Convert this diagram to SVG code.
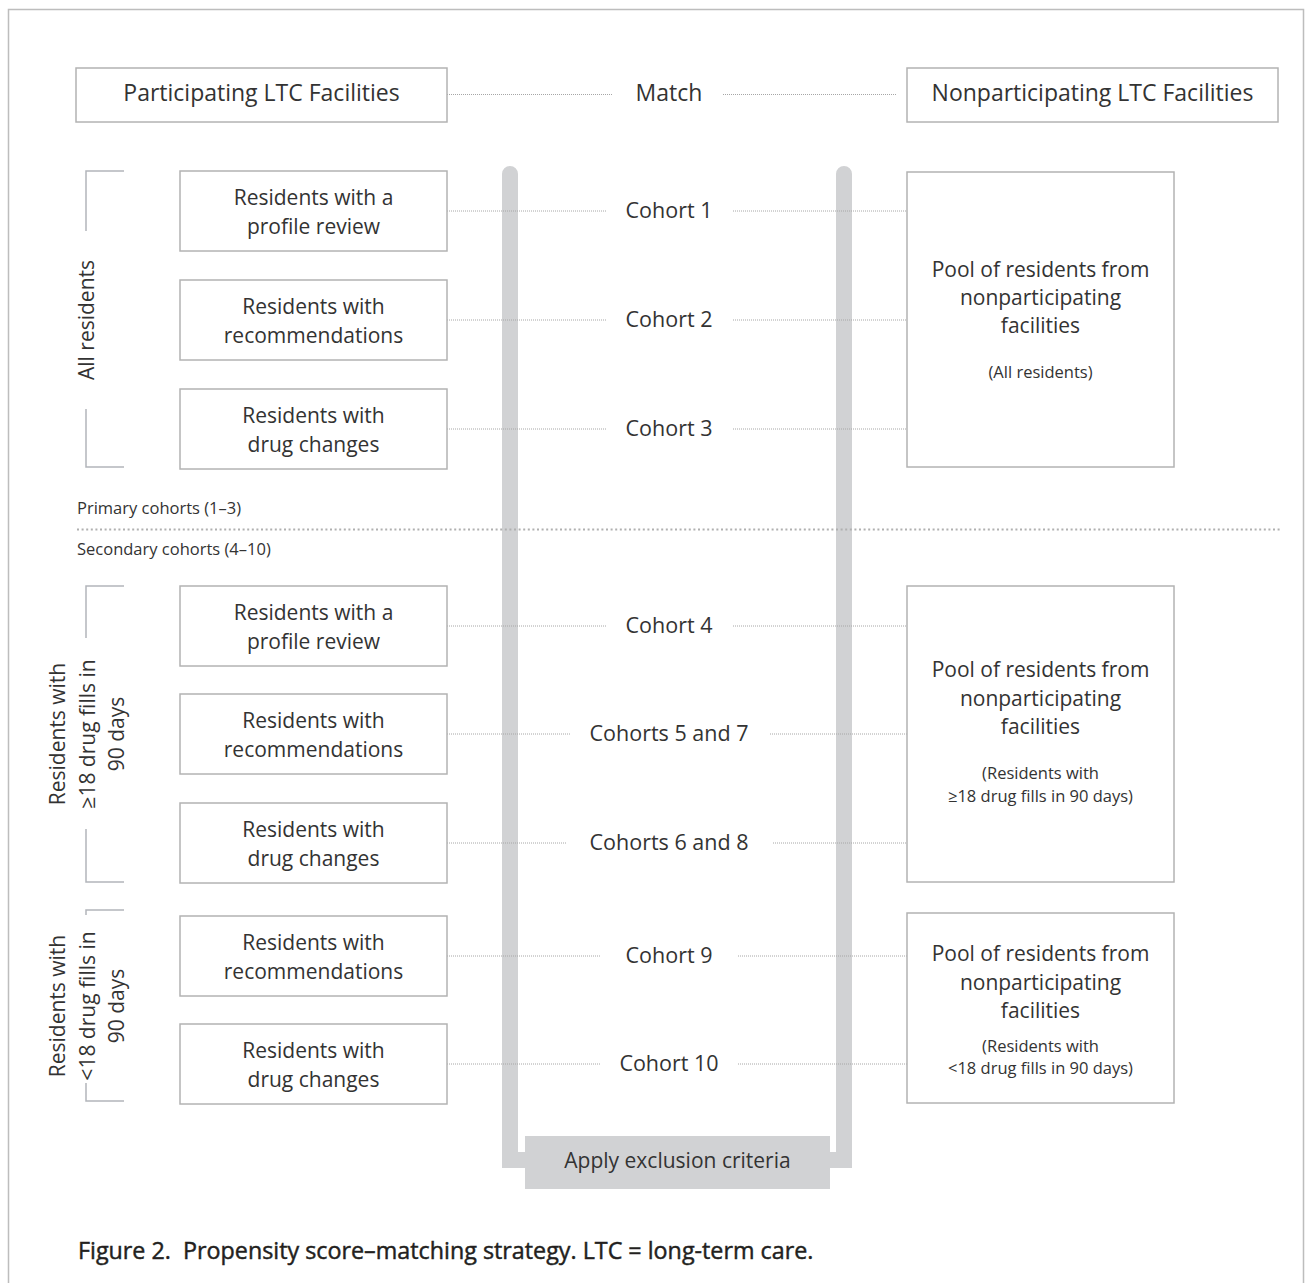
<svg xmlns="http://www.w3.org/2000/svg" width="1306" height="1283" viewBox="0 0 1306 1283">
<style>
  .t { font-family: "Open Sans", "Liberation Sans", sans-serif; fill: #333; }
  .hdr { font-size: 23px; text-anchor: middle; }
  .box { fill: #fff; stroke: #b3b3b3; stroke-width: 1.5; }
  .bt { font-size: 21px; text-anchor: middle; }
  .small { font-size: 16.5px; text-anchor: middle; }
  .lab { font-size: 16.5px; }
  .coh { font-size: 21.5px; text-anchor: middle; }
  .dot { stroke: #a6a6a6; stroke-width: 1; stroke-dasharray: 1 1; fill: none; }
  .brk { stroke: #b2b5bb; stroke-width: 1.5; fill: none; }
  .bar { stroke: #d1d2d4; stroke-width: 16; fill: none; stroke-linecap: round; stroke-linejoin: miter; }
</style>
<rect x="0" y="0" width="1306" height="1283" fill="#fff"/>
<path d="M8.5,1283 V9.5 H1303.5 V1283" fill="none" stroke="#bdbdbd" stroke-width="1.5"/>

<!-- gray U channel -->
<g id="channel">
  <path class="bar" d="M510,174 V1160 H844 V174"/>
</g>

<!-- connectors -->
<g id="connectors">
  <line class="dot" x1="447" y1="94.5" x2="613" y2="94.5"/>
  <line class="dot" x1="723" y1="94.5" x2="897" y2="94.5"/>
  <line class="dot" x1="447" y1="211" x2="607" y2="211"/>
  <line class="dot" x1="733" y1="211" x2="907" y2="211"/>
  <line class="dot" x1="447" y1="320" x2="607" y2="320"/>
  <line class="dot" x1="733" y1="320" x2="907" y2="320"/>
  <line class="dot" x1="447" y1="429" x2="607" y2="429"/>
  <line class="dot" x1="733" y1="429" x2="907" y2="429"/>
  <line class="dot" x1="447" y1="626" x2="607" y2="626"/>
  <line class="dot" x1="733" y1="626" x2="907" y2="626"/>
  <line class="dot" x1="447" y1="734" x2="571" y2="734"/>
  <line class="dot" x1="770" y1="734" x2="907" y2="734"/>
  <line class="dot" x1="447" y1="843" x2="567" y2="843"/>
  <line class="dot" x1="773" y1="843" x2="907" y2="843"/>
  <line class="dot" x1="447" y1="956" x2="601" y2="956"/>
  <line class="dot" x1="738" y1="956" x2="907" y2="956"/>
  <line class="dot" x1="447" y1="1064" x2="601" y2="1064"/>
  <line class="dot" x1="738" y1="1064" x2="907" y2="1064"/>
</g>

<!-- header -->
<g id="participating">
  <rect class="box" x="76" y="68" width="371" height="54"/>
  <text class="t hdr" x="261.5" y="101">Participating LTC Facilities</text>
</g>
<g id="match">
  <text class="t hdr" x="669" y="101">Match</text>
</g>
<g id="nonparticipating">
  <rect class="box" x="907" y="68" width="371" height="54"/>
  <text class="t hdr" x="1092.5" y="101">Nonparticipating LTC Facilities</text>
</g>

<!-- left boxes -->
<g id="p1"><rect class="box" x="180" y="171" width="267" height="80"/>
  <text class="t bt" x="313.5" y="205">Residents with a</text><text class="t bt" x="313.5" y="234">profile review</text></g>
<g id="p2"><rect class="box" x="180" y="280" width="267" height="80"/>
  <text class="t bt" x="313.5" y="314">Residents with</text><text class="t bt" x="313.5" y="343">recommendations</text></g>
<g id="p3"><rect class="box" x="180" y="389" width="267" height="80"/>
  <text class="t bt" x="313.5" y="423">Residents with</text><text class="t bt" x="313.5" y="452">drug changes</text></g>
<g id="p4"><rect class="box" x="180" y="586" width="267" height="80"/>
  <text class="t bt" x="313.5" y="620">Residents with a</text><text class="t bt" x="313.5" y="649">profile review</text></g>
<g id="p5"><rect class="box" x="180" y="694" width="267" height="80"/>
  <text class="t bt" x="313.5" y="728">Residents with</text><text class="t bt" x="313.5" y="757">recommendations</text></g>
<g id="p6"><rect class="box" x="180" y="803" width="267" height="80"/>
  <text class="t bt" x="313.5" y="837">Residents with</text><text class="t bt" x="313.5" y="866">drug changes</text></g>
<g id="p7"><rect class="box" x="180" y="916" width="267" height="80"/>
  <text class="t bt" x="313.5" y="950">Residents with</text><text class="t bt" x="313.5" y="979">recommendations</text></g>
<g id="p8"><rect class="box" x="180" y="1024" width="267" height="80"/>
  <text class="t bt" x="313.5" y="1058">Residents with</text><text class="t bt" x="313.5" y="1087">drug changes</text></g>

<!-- cohort labels -->
<g id="c1"><text class="t coh" x="669" y="218">Cohort 1</text></g>
<g id="c2"><text class="t coh" x="669" y="327">Cohort 2</text></g>
<g id="c3"><text class="t coh" x="669" y="436">Cohort 3</text></g>
<g id="c4"><text class="t coh" x="669" y="633">Cohort 4</text></g>
<g id="c57"><text class="t coh" x="669" y="741">Cohorts 5 and 7</text></g>
<g id="c68"><text class="t coh" x="669" y="850">Cohorts 6 and 8</text></g>
<g id="c9"><text class="t coh" x="669" y="963">Cohort 9</text></g>
<g id="c10"><text class="t coh" x="669" y="1071">Cohort 10</text></g>

<!-- right pools -->
<g id="poolA"><rect class="box" x="907" y="172" width="267" height="295"/>
  <text class="t bt" x="1040.5" y="277">Pool of residents from</text>
  <text class="t bt" x="1040.5" y="305">nonparticipating</text>
  <text class="t bt" x="1040.5" y="333">facilities</text>
  <text class="t small" x="1040.5" y="378">(All residents)</text></g>
<g id="poolB"><rect class="box" x="907" y="586" width="267" height="296"/>
  <text class="t bt" x="1040.5" y="677">Pool of residents from</text>
  <text class="t bt" x="1040.5" y="706">nonparticipating</text>
  <text class="t bt" x="1040.5" y="734">facilities</text>
  <text class="t small" x="1040.5" y="779">(Residents with</text>
  <text class="t small" x="1040.5" y="802">≥18 drug fills in 90 days)</text></g>
<g id="poolC"><rect class="box" x="907" y="913" width="267" height="190"/>
  <text class="t bt" x="1040.5" y="961">Pool of residents from</text>
  <text class="t bt" x="1040.5" y="990">nonparticipating</text>
  <text class="t bt" x="1040.5" y="1018">facilities</text>
  <text class="t small" x="1040.5" y="1052">(Residents with</text>
  <text class="t small" x="1040.5" y="1074">&lt;18 drug fills in 90 days)</text></g>

<!-- brackets -->
<g id="bracket-all">
  <path class="brk" d="M124,171 H86 V231 M86,409 V467 H124"/>
  <text class="t bt" transform="translate(94,320) rotate(-90)" x="0" y="0">All residents</text>
</g>
<g id="bracket-ge18">
  <path class="brk" d="M124,586 H86 V638 M86,829 V882 H124"/>
  <text class="t bt" transform="translate(65,734) rotate(-90)" x="0" y="0">Residents with</text>
  <text class="t bt" transform="translate(95,734) rotate(-90)" x="0" y="0">≥18 drug fills in</text>
  <text class="t bt" transform="translate(124,734) rotate(-90)" x="0" y="0">90 days</text>
</g>
<g id="bracket-lt18">
  <path class="brk" d="M124,910 H86 V915 M86,1083 V1101 H124"/>
  <text class="t bt" transform="translate(65,1006) rotate(-90)" x="0" y="0">Residents with</text>
  <text class="t bt" transform="translate(95,1006) rotate(-90)" x="0" y="0">&lt;18 drug fills in</text>
  <text class="t bt" transform="translate(124,1006) rotate(-90)" x="0" y="0">90 days</text>
</g>

<!-- separator -->
<g id="separator">
  <text class="t lab" x="77" y="514">Primary cohorts (1–3)</text>
  <line x1="77" y1="529.5" x2="1280" y2="529.5" stroke="#b0b0b0" stroke-width="2" stroke-dasharray="2 2.6"/>
  <text class="t lab" x="77" y="555">Secondary cohorts (4–10)</text>
</g>

<!-- exclusion -->
<g id="exclusion">
  <rect x="525" y="1136" width="305" height="53" fill="#d1d2d4"/>
  <text class="t bt" x="677.5" y="1168">Apply exclusion criteria</text>
</g>

<!-- caption -->
<text class="t" x="78" y="1259" xml:space="preserve" style="font-size:23.3px;fill:#231f20;stroke:#231f20;stroke-width:0.45;white-space:pre">Figure 2.  Propensity score–matching strategy. LTC = long-term care.</text>
</svg>
